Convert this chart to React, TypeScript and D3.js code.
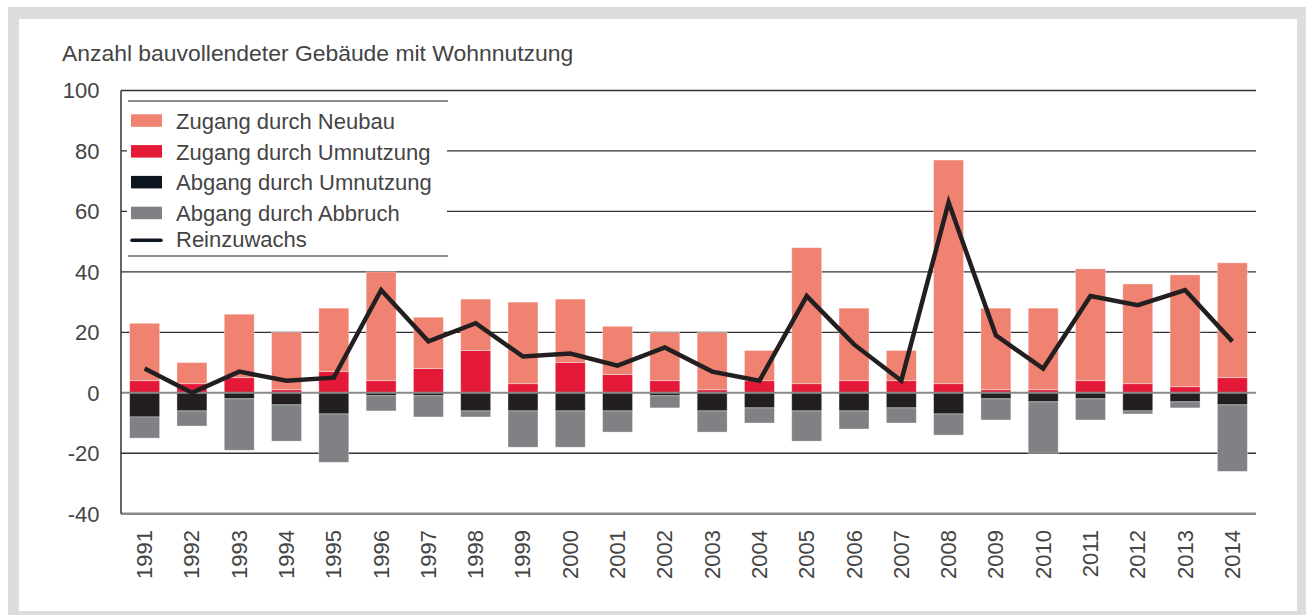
import React from "react";
import * as d3 from "d3";

// Anzahl bauvollendeter Gebäude mit Wohnnutzung, 1991-2014
const years = [
  "1991", "1992", "1993", "1994", "1995", "1996", "1997", "1998",
  "1999", "2000", "2001", "2002", "2003", "2004", "2005", "2006",
  "2007", "2008", "2009", "2010", "2011", "2012", "2013", "2014",
];
const zugangNeubau = [19, 7, 21, 19, 21, 36, 17, 17, 27, 21, 16, 16, 19, 10, 45, 24, 10, 74, 27, 27, 37, 33, 37, 38];
const zugangUmnutzung = [4, 3, 5, 1, 7, 4, 8, 14, 3, 10, 6, 4, 1, 4, 3, 4, 4, 3, 1, 1, 4, 3, 2, 5];
const abgangUmnutzung = [-8, -6, -2, -4, -7, -1, -1, -6, -6, -6, -6, -1, -6, -5, -6, -6, -5, -7, -2, -3, -2, -6, -3, -4];
const abgangAbbruch = [-7, -5, -17, -12, -16, -5, -7, -2, -12, -12, -7, -4, -7, -5, -10, -6, -5, -7, -7, -17, -7, -1, -2, -22];
const reinzuwachs = [8, 0, 7, 4, 5, 34, 17, 23, 12, 13, 9, 15, 7, 4, 32, 16, 4, 63, 19, 8, 32, 29, 34, 17];
const yTicks = [100, 80, 60, 40, 20, 0, -20, -40];

const series = [
  { key: "umn_zu", label: "Zugang durch Umnutzung", color: "#e31937" },
  { key: "neubau", label: "Zugang durch Neubau", color: "#f08272" },
  { key: "umn_ab", label: "Abgang durch Umnutzung", color: "#231f20" },
  { key: "abbruch", label: "Abgang durch Abbruch", color: "#808184" },
];
const legendOrder = ["neubau", "umn_zu", "umn_ab", "abbruch"];

const font = "'Liberation Sans', Arial, Helvetica, sans-serif";
const textColor = "#444";

export default function App() {
  const rows = years.map((year, i) => ({
    year,
    neubau: zugangNeubau[i],
    umn_zu: zugangUmnutzung[i],
    umn_ab: abgangUmnutzung[i],
    abbruch: abgangAbbruch[i],
  }));

  const stacked = d3
    .stack<any>()
    .keys(series.map((s) => s.key))
    .offset(d3.stackOffsetDiverging)(rows);

  const left = 121, right = 1256;
  const x = d3.scaleBand().domain(years).range([left, right]).paddingInner(0.366).paddingOuter(0.183);
  const y = d3.scaleLinear().domain([-40, 100]).range([513.7, 90.5]);

  const line = d3
    .line<number>()
    .x((_, i) => (x(years[i]) as number) + x.bandwidth() / 2)
    .y((d) => y(d));

  return (
    <svg width={1306} height={615} style={{ position: "absolute", left: 0, top: 0 }} fontFamily={font}>
      <rect x={8} y={7} width={1298} height={608} fill="#dcdddf" />
      <rect x={19} y={19} width={1278} height={592} fill="#ffffff" />

      <text x={62} y={61} fontSize={22.9} fill={textColor}>
        Anzahl bauvollendeter Gebäude mit Wohnnutzung
      </text>

      {/* gridlines */}
      {yTicks
        .filter((t) => t !== 0 && t !== -40)
        .map((t) => (
          <line key={t} x1={left} x2={right} y1={y(t)} y2={y(t)} stroke="#333" strokeWidth={1.3} />
        ))}

      {/* y tick labels */}
      {yTicks.map((t) => (
        <text key={"l" + t} x={99.5} y={y(t)} dy="0.36em" textAnchor="end" fontSize={22} fill={textColor}>
          {t}
        </text>
      ))}

      {/* bars */}
      {stacked.map((layer) => {
        const s = series.find((d) => d.key === layer.key)!;
        return (
          <g key={layer.key} fill={s.color}>
            {layer.map((d, i) => (
              <rect
                key={i}
                x={x(years[i])}
                y={y(Math.max(d[0], d[1]))}
                width={x.bandwidth()}
                height={Math.abs(y(d[0]) - y(d[1]))}
                stroke="rgba(255,255,255,0.45)"
                strokeWidth={0.8}
              />
            ))}
          </g>
        );
      })}

      {/* zero line, axis lines */}
      <line x1={left} x2={right} y1={y(0)} y2={y(0)} stroke="#8a8a8a" strokeWidth={2} />
      <line x1={left} x2={right} y1={y(-40)} y2={y(-40)} stroke="#8a8a8a" strokeWidth={2.5} />
      <line x1={left} x2={left} y1={y(100)} y2={y(-40)} stroke="#333" strokeWidth={1.5} />

      {/* net line */}
      <path d={line(reinzuwachs) || ""} fill="none" stroke="#231f20" strokeWidth={4.5} strokeLinejoin="miter" />

      {/* x labels */}
      {years.map((yr) => (
        <text
          key={yr}
          transform={`translate(${(x(yr) as number) + x.bandwidth() / 2},530) rotate(-90)`}
          textAnchor="end"
          dominantBaseline="central"
          fontSize={22}
          fill={textColor}
        >
          {yr}
        </text>
      ))}

      {/* legend */}
      <g>
        <rect x={127} y={92} width={320} height={166} fill="#ffffff" />
        <line x1={128} x2={448} y1={101} y2={101} stroke="#666" strokeWidth={1.5} />
        <line x1={128} x2={448} y1={256} y2={256} stroke="#666" strokeWidth={1.5} />
        {legendOrder.map((k, i) => {
          const s = series.find((d) => d.key === k)!;
          const top = 114.3 + i * 30.8;
          return (
            <g key={k}>
              <rect x={131} y={top} width={31} height={12.5} fill={k === "umn_ab" ? "#0d1520" : s.color} />
              <text x={176} y={top + 14.5} fontSize={22} fill={textColor}>
                {s.label}
              </text>
            </g>
          );
        })}
        <line x1={132} x2={161} y1={240.3} y2={240.3} stroke="#0d1520" strokeWidth={3.5} strokeLinecap="round" />
        <text x={176} y={247} fontSize={22} fill={textColor}>
          Reinzuwachs
        </text>
      </g>
    </svg>
  );
}
